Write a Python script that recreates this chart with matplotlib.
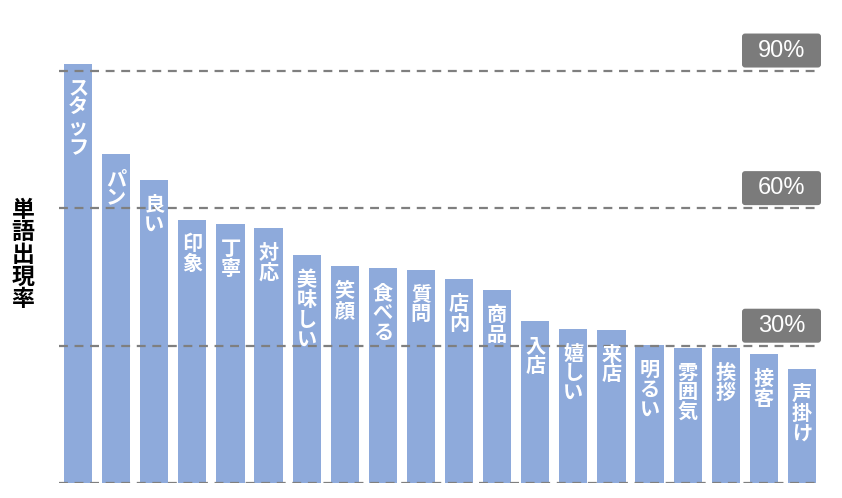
import matplotlib
matplotlib.use("Agg")
import matplotlib.pyplot as plt
from matplotlib.patches import FancyBboxPatch

plt.rcParams['font.family'] = ['Noto Sans CJK JP', 'DejaVu Sans']

words = ["スタッフ", "パン", "良い", "印象", "丁寧", "対応", "美味しい", "笑顔", "食べる", "質問",
         "店内", "商品", "入店", "嬉しい", "来店", "明るい", "雰囲気", "挨拶", "接客", "声掛け"]
rates = [91.5, 71.8, 66.2, 57.5, 56.5, 55.7, 49.7, 47.3, 46.9, 46.6,
         44.5, 42.1, 35.3, 33.7, 33.5, 30.2, 29.6, 29.5, 28.1, 24.9]
grid_values = [30, 60, 90]
grid_labels = ["30%", "60%", "90%"]
ylabel = "単語出現率"

W, H = 842, 498
fig = plt.figure(figsize=(W / 100, H / 100), dpi=100)
ax_left, ax_right = 59, 821
ax_bottom_px, ax_top_px = 483.3, 47.6
ax = fig.add_axes([ax_left / W, (H - ax_bottom_px) / H,
                   (ax_right - ax_left) / W, (ax_bottom_px - ax_top_px) / H])
ymax = 95
ax.set_xlim(-0.5, len(words) - 0.5)
ax.set_ylim(0, ymax)
ax.axis('off')

bar_color = "#8eaadb"
x = list(range(len(words)))
ax.bar(x, rates, width=0.74, color=bar_color, zorder=1)

# gridlines (including baseline)
for v in [0] + grid_values:
    ax.axhline(v, color="#7f7f7f", lw=1.6, ls=(0, (4, 3)), zorder=2)

# labels inside bars (vertical stacked)
for xi, w, r in zip(x, words, rates):
    ax.annotate("\n".join(w), xy=(xi, r), xytext=(0, -10), textcoords="offset points",
                ha="center", va="top", color="white", fontsize=14.5, fontweight="bold",
                linespacing=0.93, zorder=3)

# percentage boxes
ax_w_px = ax_right - ax_left
ax_h_px = ax_bottom_px - ax_top_px
box_w = 79 / ax_w_px
box_h = 34 / ax_h_px
for v, lab in zip(grid_values, grid_labels):
    y0 = v / ymax + 3 / ax_h_px
    patch = FancyBboxPatch((1 - box_w, y0), box_w, box_h,
                           boxstyle="round,pad=0,rounding_size=0.004",
                           mutation_aspect=ax_w_px / ax_h_px,
                           transform=ax.transAxes, facecolor="#7b7b7b",
                           edgecolor="none", clip_on=False, zorder=4)
    ax.add_patch(patch)
    ax.text(1 - box_w / 2, y0 + box_h / 2, lab, transform=ax.transAxes,
            ha="center", va="center", color="white", fontsize=17,
            family=["Liberation Sans", "DejaVu Sans"], zorder=5)

fig.text(23 / W, 1 - 255 / H, "\n".join(ylabel), ha="center", va="center",
         fontsize=16.5, fontweight="bold", color="black", linespacing=0.95)

fig.savefig("out.png", dpi=100)
